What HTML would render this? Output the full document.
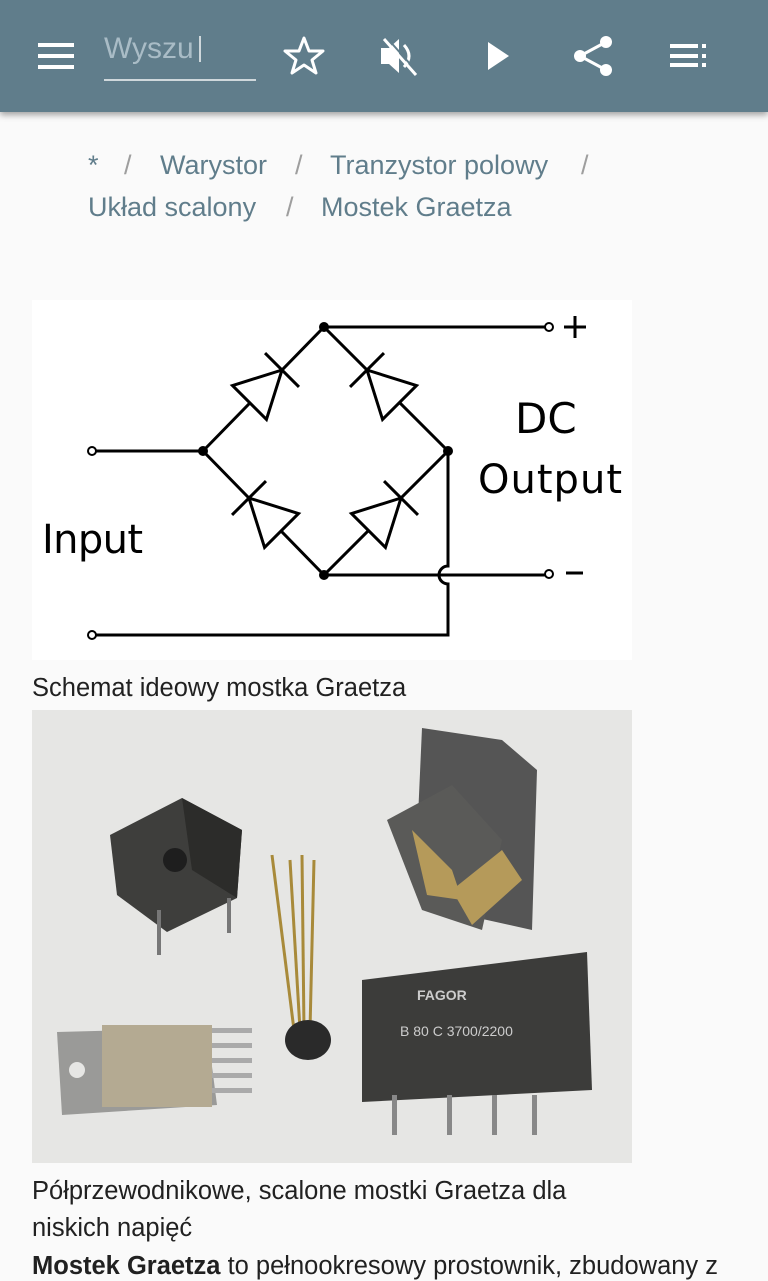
<!DOCTYPE html>
<html><head><meta charset="utf-8"><style>
body{margin:0;width:768px;height:1280px;overflow:hidden;background:#fafafa;font-family:"Liberation Sans",sans-serif;position:relative}
.bar{position:absolute;left:0;top:0;width:768px;height:112px;background:#607d8b;box-shadow:0 3px 6px rgba(0,0,0,.35)}
.t{position:absolute;white-space:nowrap}
.bc{color:#607d8b;font-size:27px}
.sl{color:#9e9e9e;font-size:27px}
.tx{color:#212121;font-size:25.5px}
</style></head><body>
<div class="bar">
<svg width="768" height="112" style="position:absolute;left:0;top:0">
<g fill="#fff"><rect x="38" y="43" width="36" height="4"/><rect x="38" y="54" width="36" height="4"/><rect x="38" y="65" width="36" height="4"/></g>
<text x="104" y="58" font-size="30" fill="#a9bcc6" font-family="Liberation Sans">Wyszu</text>
<rect x="199" y="36" width="2" height="26" fill="#cfd8dc"/>
<rect x="104" y="79" width="152" height="2" fill="#cfd8dc"/>
<polygon points="304,38 309,51 323,51 312,60 316,73 304,65 292,73 296,60 285,51 299,51" fill="none" stroke="#fff" stroke-width="3" stroke-linejoin="round"/>
<g fill="#fff"><polygon points="381,48 389,48 399,39 399,73 389,64 381,64"/></g>
<path d="M404,45 Q414,56 404,67" stroke="#fff" stroke-width="3" fill="none"/>
<line x1="384" y1="39" x2="416" y2="75" stroke="#fff" stroke-width="3"/>
<line x1="387" y1="38" x2="419" y2="74" stroke="#607d8b" stroke-width="2"/>
<polygon points="488,42 509,56 488,70" fill="#fff"/>
<g fill="#fff"><circle cx="606" cy="42" r="6"/><circle cx="580" cy="56" r="6"/><circle cx="606" cy="70" r="6"/></g>
<path d="M606,42 L580,56 L606,70" stroke="#fff" stroke-width="3" fill="none"/>
<g fill="#fff"><rect x="670" y="44" width="28" height="4"/><rect x="670" y="54" width="28" height="4"/><rect x="670" y="63" width="28" height="4"/><rect x="702" y="44" width="4" height="4"/><rect x="702" y="54" width="4" height="4"/><rect x="702" y="63" width="4" height="4"/></g>
</svg>
</div>
<div class="t bc" style="left:88px;top:150px">*</div>
<div class="t sl" style="left:124px;top:150px">/</div>
<div class="t bc" style="left:160px;top:150px">Warystor</div>
<div class="t sl" style="left:295px;top:150px">/</div>
<div class="t bc" style="left:330px;top:150px">Tranzystor polowy</div>
<div class="t sl" style="left:581px;top:150px">/</div>
<div class="t bc" style="left:88px;top:192px">Układ scalony</div>
<div class="t sl" style="left:286px;top:192px">/</div>
<div class="t bc" style="left:321px;top:192px">Mostek Graetza</div>

<svg width="600" height="360" style="position:absolute;left:32px;top:300px;background:#fff" viewBox="32 300 600 360">
<defs><g id="d"><polygon points="-46,-24 -46,24 0,0" fill="#fff" stroke="#000" stroke-width="3" stroke-linejoin="miter"/><line x1="0" y1="-24" x2="0" y2="24" stroke="#000" stroke-width="3"/></g></defs>
<g stroke="#000" stroke-width="3" fill="none">
<path d="M203,451 L324,327 L448,451 L324,575 Z"/>
<line x1="95" y1="451" x2="203" y2="451"/>
<line x1="324" y1="327" x2="545" y2="327"/>
<line x1="324" y1="575" x2="545" y2="575"/>
<path d="M448,451 L448,566 A9,9 0 0 0 448,584 L448,635 L95,635"/>
</g>
<use href="#d" transform="translate(282,370) rotate(-45)"/>
<use href="#d" transform="translate(367,370) rotate(-135)"/>
<use href="#d" transform="translate(249,498) rotate(-135)"/>
<use href="#d" transform="translate(401,498) rotate(-45)"/>
<g fill="#000"><circle cx="324" cy="327" r="5"/><circle cx="203" cy="451" r="5"/><circle cx="448" cy="451" r="5"/><circle cx="324" cy="575" r="5"/></g>
<g fill="#fff" stroke="#000" stroke-width="2"><circle cx="92" cy="451" r="4"/><circle cx="92" cy="635" r="4"/><circle cx="549" cy="327" r="4"/><circle cx="549" cy="574" r="4"/></g>
<g stroke="#000" stroke-width="3"><line x1="564" y1="327" x2="586" y2="327"/><line x1="575" y1="316" x2="575" y2="338"/><line x1="566" y1="573" x2="583" y2="573"/></g>
<g font-family="DejaVu Sans" font-size="40" fill="#000"><text x="515" y="433" font-size="42">DC</text><text x="478" y="493" textLength="144">Output</text><text x="42" y="553" textLength="101">Input</text></g>
</svg>
<div class="t tx" style="left:32px;top:674px">Schemat ideowy mostka Graetza</div>

<svg width="600" height="453" style="position:absolute;left:32px;top:710px">
<rect width="600" height="453" fill="#e6e6e4"/>
<polygon points="78,125 150,88 210,120 205,188 135,222 85,185" fill="#3e3e3c"/>
<polygon points="150,88 210,120 205,188 160,160" fill="#2c2c2a"/>
<circle cx="143" cy="150" r="12" fill="#1e1e1e"/>
<rect x="125" y="200" width="4" height="45" fill="#777"/><rect x="195" y="188" width="4" height="35" fill="#777"/>
<g stroke="#a88a3a" stroke-width="3"><line x1="240" y1="145" x2="262" y2="320"/><line x1="258" y1="150" x2="268" y2="320"/><line x1="270" y1="145" x2="272" y2="320"/><line x1="282" y1="150" x2="278" y2="320"/></g>
<ellipse cx="276" cy="330" rx="23" ry="20" fill="#2a2a2a"/>
<polygon points="390,18 470,30 505,60 500,220 410,200 385,130" fill="#555"/>
<polygon points="355,110 420,75 470,130 450,220 390,200" fill="#5a5a58"/>
<polygon points="380,120 420,160 430,190 395,185" fill="#b59a5a"/>
<polygon points="420,180 470,140 490,170 440,215" fill="#b59a5a"/>
<polygon points="330,270 555,242 560,380 330,392" fill="#3c3c3a"/>
<text x="385" y="290" font-size="14" fill="#ccc" font-family="Liberation Sans" font-weight="bold">FAGOR</text>
<text x="368" y="326" font-size="14" fill="#ccc" font-family="Liberation Sans">B 80  C 3700/2200</text>
<g fill="#888"><rect x="360" y="385" width="5" height="40"/><rect x="415" y="385" width="5" height="40"/><rect x="460" y="385" width="5" height="40"/><rect x="500" y="385" width="5" height="40"/></g>
<polygon points="25,322 175,318 185,395 30,405" fill="#9a9a98"/>
<rect x="70" y="315" width="110" height="82" fill="#b4aa92"/>
<circle cx="45" cy="360" r="8" fill="#e6e6e4"/>
<g fill="#aaa"><rect x="180" y="318" width="40" height="5"/><rect x="180" y="333" width="40" height="5"/><rect x="180" y="348" width="40" height="5"/><rect x="180" y="363" width="40" height="5"/><rect x="180" y="378" width="40" height="5"/></g>
</svg>

<div class="t tx" style="left:32px;top:1177px">Półprzewodnikowe, scalone mostki Graetza dla</div>
<div class="t tx" style="left:32px;top:1214px">niskich napięć</div>
<div class="t tx" style="left:32px;top:1252px"><b>Mostek Graetza</b> to pełnookresowy prostownik, zbudowany z</div>
</body></html>
